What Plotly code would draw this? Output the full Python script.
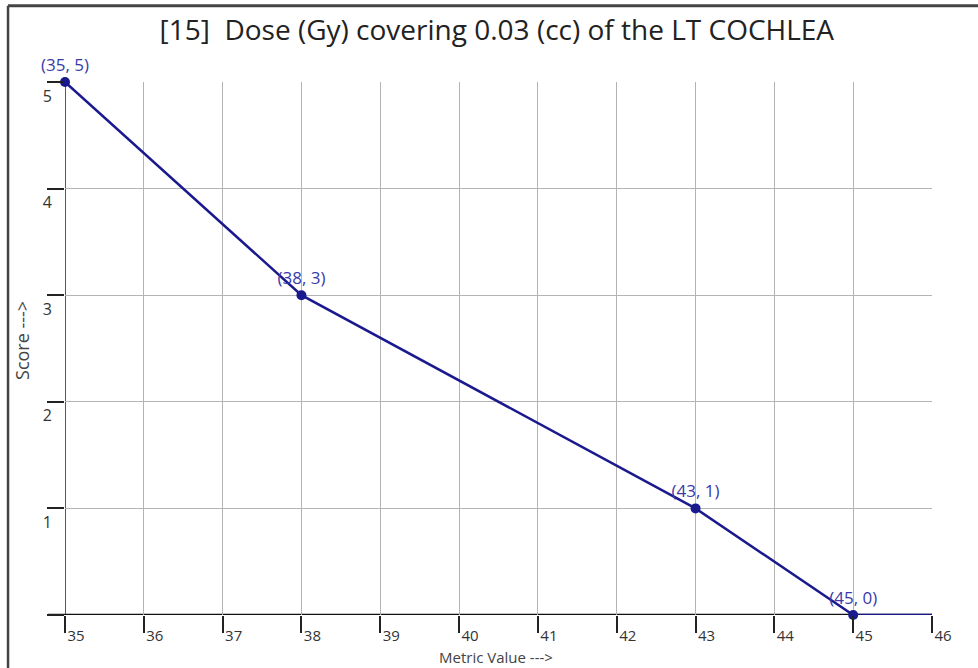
import plotly.graph_objects as go

x_vals = [35, 38, 43, 45, 46]
y_vals = [5, 3, 1, 0, 0]
labeled_x = [35, 38, 43, 45]
labeled_y = [5, 3, 1, 0]
x_ticks = [35, 36, 37, 38, 39, 40, 41, 42, 43, 44, 45, 46]
y_ticks = [0, 1, 2, 3, 4, 5]
y_ticktext = ["", "1", "2", "3", "4", "5"]

title = "[15]  Dose (Gy) covering 0.03 (cc) of the LT COCHLEA"
x_title = "Metric Value --->"
y_title = "Score --->"
line_color = "#1a1a8e"
label_color = "#3a3aaa"
font_family = "Open Sans, Noto Sans, sans-serif"

fig = go.Figure()
fig.add_trace(go.Scatter(
    x=x_vals, y=y_vals, mode="lines",
    line=dict(color=line_color, width=2.5),
    hoverinfo="skip", showlegend=False, cliponaxis=False,
))
fig.add_trace(go.Scatter(
    x=labeled_x, y=labeled_y, mode="markers+text",
    marker=dict(color=line_color, size=10),
    text=[f"({a}, {b})" for a, b in zip(labeled_x, labeled_y)],
    textposition="top center",
    textfont=dict(color=label_color, size=17, family=font_family),
    showlegend=False, cliponaxis=False,
))

fig.update_layout(
    width=978, height=668,
    margin=dict(l=65, r=46, t=82, b=53),
    paper_bgcolor="white", plot_bgcolor="white",
    title=dict(text=title, x=0.508, xanchor="center", y=0.955, yanchor="middle",
               font=dict(size=28, color="#222222", family=font_family)),
    font=dict(family=font_family, color="#333333"),
)
fig.update_xaxes(
    range=[35, 46], tickvals=x_ticks, ticktext=[str(v) for v in x_ticks],
    showgrid=True, gridcolor="#b4b4b4", gridwidth=1,
    ticks="outside", ticklen=17, tickcolor="#222222", tickwidth=1.5,
    ticklabelshift=11, ticklabelstandoff=-10,
    tickfont=dict(size=15, color="#333333", family=font_family),
    zeroline=False, showline=False,
)
fig.update_yaxes(
    range=[0, 5], tickvals=y_ticks, ticktext=y_ticktext,
    showgrid=True, gridcolor="#b4b4b4", gridwidth=1,
    ticks="outside", ticklen=17, tickcolor="#222222", tickwidth=1.5,
    ticklabelshift=14, ticklabelstandoff=-8,
    tickfont=dict(size=16, color="#333333", family=font_family),
    zeroline=False, showline=False,
)

fig.add_annotation(text=x_title, xref="paper", yref="paper", x=0.497, y=-0.0788,
                   showarrow=False, xanchor="center", yanchor="middle",
                   font=dict(size=15, color="#444444", family=font_family))
fig.add_annotation(text=y_title, xref="paper", yref="paper", x=-0.0496, y=0.516,
                   showarrow=False, xanchor="center", yanchor="middle", textangle=-90,
                   font=dict(size=18, color="#444444", family=font_family))

# axis lines
fig.add_shape(type="line", xref="x", yref="y", x0=35, x1=46, y0=0, y1=0,
              line=dict(color="#111111", width=2.5), layer="below")
fig.add_shape(type="line", xref="x", yref="y", x0=35, x1=35, y0=0, y1=5,
              line=dict(color="#222222", width=1.5), layer="below")
fig.add_shape(type="line", xref="paper", yref="y", x0=-0.0196, x1=0, y0=0, y1=0,
              line=dict(color="#111111", width=2.5), layer="below")
# outer frame (top and left edges)
fig.add_shape(type="line", xref="paper", yref="paper", x0=-0.0657, x1=1.06, y0=1.143, y1=1.143,
              line=dict(color="#444444", width=3), layer="above")
fig.add_shape(type="line", xref="paper", yref="paper", x0=-0.0657, x1=-0.0657, y0=-0.1, y1=1.143,
              line=dict(color="#444444", width=2.5), layer="above")

fig.write_html("out.html", config={"displayModeBar": False},
               post_script="document.body.style.margin='0px';document.body.style.overflow='hidden';")
